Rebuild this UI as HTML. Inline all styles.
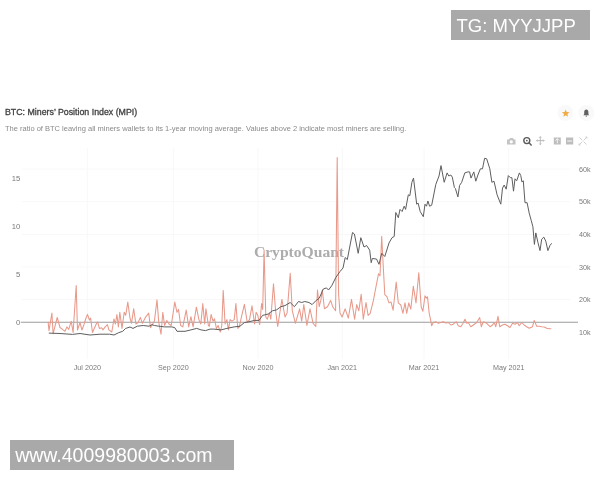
<!DOCTYPE html>
<html><head><meta charset="utf-8"><style>
html,body{margin:0;padding:0;background:#fff;width:600px;height:480px;overflow:hidden;}
body{position:relative;filter:blur(0.3px);font-family:"Liberation Sans",sans-serif;}
.wm{position:absolute;background:#a9a9a9;color:#fff;font-family:"Liberation Sans",sans-serif;white-space:nowrap;}
#tg{left:451px;top:10px;width:139px;height:30px;font-size:18.5px;line-height:30px;}
#tg span{position:absolute;left:5.5px;top:0.5px;}
#www{left:10px;top:440px;width:224px;height:30px;font-size:19.5px;line-height:30px;}
#www span{position:absolute;left:5.2px;top:0.3px;}
.title{position:absolute;left:5px;top:106.5px;font-size:8.8px;-webkit-text-stroke:0.3px #404040;color:#404040;white-space:nowrap;}
.sub{position:absolute;left:5px;top:124px;font-size:7.5px;color:#8a8a8a;white-space:nowrap;}
svg{position:absolute;left:0;top:0;}
svg text{font-family:"Liberation Sans",sans-serif;}
</style></head><body>
<svg width="600" height="480" viewBox="0 0 600 480">
<line x1="87.3" y1="148" x2="87.3" y2="359" stroke="#f8f8f8" stroke-width="1"/>
<line x1="173.3" y1="148" x2="173.3" y2="359" stroke="#f8f8f8" stroke-width="1"/>
<line x1="258.0" y1="148" x2="258.0" y2="359" stroke="#f8f8f8" stroke-width="1"/>
<line x1="342.3" y1="148" x2="342.3" y2="359" stroke="#f8f8f8" stroke-width="1"/>
<line x1="424.0" y1="148" x2="424.0" y2="359" stroke="#f8f8f8" stroke-width="1"/>
<line x1="508.7" y1="148" x2="508.7" y2="359" stroke="#f8f8f8" stroke-width="1"/>
<line x1="22" y1="169.0" x2="570" y2="169.0" stroke="#f8f8f8" stroke-width="1"/>
<line x1="22" y1="201.7" x2="570" y2="201.7" stroke="#f8f8f8" stroke-width="1"/>
<line x1="22" y1="234.4" x2="570" y2="234.4" stroke="#f8f8f8" stroke-width="1"/>
<line x1="22" y1="266.9" x2="570" y2="266.9" stroke="#f8f8f8" stroke-width="1"/>
<line x1="22" y1="299.4" x2="570" y2="299.4" stroke="#f8f8f8" stroke-width="1"/>
<text x="299" y="257.4" text-anchor="middle" style="font-family:Liberation Serif,serif;font-weight:bold;font-size:15.6px" fill="#acacac">CryptoQuant</text>
<line x1="20.8" y1="322.2" x2="578" y2="322.2" stroke="#9c9c9c" stroke-width="1.1"/>
<g>
<polyline points="48.1,321.9 49.0,330.6 51.9,313.1 53.1,333.8 57.2,317.5 60.0,327.5 62.5,329.4 65.0,331.3 66.9,326.9 68.8,329.4 71.2,321.2 73.1,332.5 76.2,285.6 77.5,330.0 80.0,322.5 81.9,330.0 83.8,325.0 86.0,318.0 87.5,314.4 89.4,320.0 90.6,318.1 92.5,332.5 96.9,322.5 97.6,321.8 99.4,328.4 101.6,327.7 103.0,329.9 105.2,326.9 107.4,324.7 108.9,329.9 111.8,332.0 114.0,318.9 115.4,324.0 116.9,314.5 118.4,326.9 119.8,312.3 122.0,328.4 124.2,312.3 125.7,315.3 127.8,302.1 130.0,318.2 131.5,323.3 133.7,308.7 135.9,324.0 138.1,322.6 140.3,317.4 142.4,323.3 145.4,317.4 148.7,313.1 150.5,327.7 152.7,324.0 154.4,321.1 157.0,299.9 158.8,322.6 161.0,334.2 162.8,312.3 164.6,325.5 166.8,320.4 169.0,324.0 171.2,325.5 174.8,302.1 177.0,312.3 178.5,309.4 180.7,325.5 182.8,326.9 186.2,310.1 188.7,326.9 190.9,316.7 193.1,326.9 196.4,307.2 198.9,319.6 200.8,324.0 202.8,303.6 204.7,324.0 205.9,308.7 208.4,325.5 209.4,326.2 211.1,314.5 213.0,321.1 214.5,318.9 216.4,328.4 218.1,325.5 220.3,332.0 221.8,325.5 223.2,290.4 225.1,324.0 226.9,319.6 228.4,329.9 230.1,319.6 232.0,321.1 234.2,319.6 235.9,303.6 237.8,328.4 239.3,326.9 241.5,316.7 244.4,304.3 247.3,322.6 249.5,319.6 252.0,305.8 254.6,324.0 256.1,312.3 257.8,315.3 259.7,324.7 261.6,303.6 262.7,309.4 264.1,250.0 265.8,317.0 267.3,319.2 269.4,312.9 270.8,319.2 273.5,283.8 275.6,310.8 277.7,326.5 281.9,299.4 285.0,317.0 287.1,312.9 290.2,273.3 292.3,310.8 295.4,323.3 299.6,308.8 301.7,321.2 303.8,304.6 306.9,325.4 310.0,308.8 313.1,323.3 315.8,326.5 317.5,290.0 319.2,306.7 320.8,300.4 322.3,290.0 324.4,308.8 327.5,306.7 330.6,300.4 332.7,306.7 335.6,310.8 337.2,157.5 338.6,294.2 340.0,312.9 342.1,317.0 345.2,308.8 348.3,318.1 351.5,299.4 354.6,319.2 356.7,304.6 358.8,310.8 361.2,294.2 363.3,319.2 366.0,302.5 368.1,315.4 370.2,313.3 373.3,300.8 376.5,284.2 378.5,273.8 380.0,275.8 381.7,236.2 383.3,267.5 384.8,294.6 386.9,296.7 389.0,302.9 391.0,301.9 393.1,310.2 396.2,282.1 398.3,302.9 400.8,305.0 402.9,313.3 405.0,302.9 406.7,313.3 408.8,302.9 410.8,309.2 413.3,286.2 416.0,302.9 418.8,272.7 421.2,307.0 422.9,311.2 425.0,295.8 426.7,298.3 427.5,296.7 429.2,313.3 430.3,318.3 431.7,325.8 433.3,322.5 435.8,321.7 438.3,323.3 440.8,322.5 443.3,321.7 445.8,323.0 448.3,322.5 450.8,325.0 453.3,324.2 456.3,321.7 458.3,325.8 460.8,326.7 463.0,323.3 465.0,319.2 466.7,323.3 468.3,322.5 470.8,326.7 473.3,325.0 476.7,322.5 479.7,317.5 481.3,326.7 483.3,321.7 486.7,323.3 490.0,326.7 492.5,325.0 494.2,322.5 495.8,326.7 498.0,316.3 499.7,326.7 502.5,325.0 505.0,324.2 507.5,325.8 510.0,327.5 512.5,323.3 515.0,324.2 517.5,322.5 519.2,325.8 521.7,322.5 524.2,325.0 526.7,326.7 529.2,328.3 532.5,326.7 534.2,320.5 536.7,326.3 539.2,326.3 541.7,326.7 544.2,327.0 546.7,328.3 549.2,328.7 551.3,328.7" fill="none" stroke="#e8998a" stroke-width="1.05" stroke-linejoin="round"/>
<polyline points="48.8,333.1 60.0,333.5 72.5,334.4 80.0,333.5 90.0,335.0 100.0,334.2 109.6,334.2 114.0,335.0 118.4,332.8 122.7,331.3 125.7,328.4 130.0,327.0 133.0,328.4 137.3,326.2 143.2,325.5 149.0,326.2 152.0,324.7 154.4,325.5 158.8,326.2 164.6,326.9 171.9,326.9 174.8,327.7 177.0,331.3 185.0,331.3 190.9,329.9 196.7,328.4 201.1,329.9 205.5,330.6 210.0,329.1 213.8,329.1 221.1,329.9 226.9,328.4 234.2,326.9 240.0,326.2 244.4,322.6 248.8,321.8 254.6,320.4 259.0,320.4 262.7,315.3 264.2,315.0 268.3,314.0 272.5,310.8 276.7,309.8 280.8,306.7 285.0,305.6 290.2,302.5 294.4,306.7 298.5,301.5 301.7,302.5 304.8,301.5 309.0,302.5 312.1,304.6 316.2,300.4 319.2,298.3 323.3,289.0 326.5,287.9 328.5,290.0 331.7,285.8 335.8,277.5 340.0,271.5 343.0,268.0 345.2,257.5 347.3,259.6 352.5,232.5 354.4,234.0 358.2,253.3 360.8,237.7 364.0,247.0 366.6,245.5 369.7,250.2 371.2,262.7 372.3,258.5 376.5,259.0 379.0,264.3 381.7,253.3 384.8,256.5 389.0,243.0 392.0,237.7 394.2,236.5 395.8,212.5 398.3,217.7 400.0,209.4 402.1,211.5 404.2,206.2 405.6,209.4 408.3,194.8 409.8,195.8 411.9,182.3 413.5,178.1 416.7,204.2 418.1,203.1 420.2,211.5 423.3,216.7 425.0,204.2 426.5,206.2 427.9,201.0 429.6,206.2 431.7,205.2 435.8,184.4 439.0,176.0 441.0,165.6 444.2,182.3 447.1,172.9 448.8,176.0 450.8,175.0 452.3,177.1 454.4,187.5 455.4,188.5 457.9,196.9 459.6,185.4 461.7,182.3 464.8,172.9 467.9,171.9 469.6,171.9 471.0,178.1 473.8,171.9 475.8,181.2 477.9,175.0 480.4,168.8 482.5,168.8 484.6,158.3 486.7,158.8 489.8,168.8 491.9,182.3 494.0,181.2 497.1,194.8 500.8,204.2 502.5,188.1 504.2,185.0 506.2,189.2 508.3,175.6 510.4,177.7 511.9,177.7 513.5,191.2 515.0,178.8 516.7,180.8 519.4,172.9 520.8,175.6 521.9,181.9 523.3,180.8 525.0,202.7 527.1,202.7 529.2,213.1 531.2,220.4 532.9,226.7 534.4,244.4 535.8,232.9 537.9,242.3 540.0,250.6 541.7,239.2 543.8,237.1 545.8,241.2 547.9,250.6 550.0,245.4 551.7,243.3" fill="none" stroke="#5e5e5e" stroke-width="1" stroke-linejoin="round"/>
</g>
<text x="87.3" y="370" text-anchor="middle" font-size="7.2" fill="#7a7a7a">Jul 2020</text>
<text x="173.3" y="370" text-anchor="middle" font-size="7.2" fill="#7a7a7a">Sep 2020</text>
<text x="258.0" y="370" text-anchor="middle" font-size="7.2" fill="#7a7a7a">Nov 2020</text>
<text x="342.3" y="370" text-anchor="middle" font-size="7.2" fill="#7a7a7a">Jan 2021</text>
<text x="424.0" y="370" text-anchor="middle" font-size="7.2" fill="#7a7a7a">Mar 2021</text>
<text x="508.7" y="370" text-anchor="middle" font-size="7.2" fill="#7a7a7a">May 2021</text>
<text x="20.3" y="180.9" text-anchor="end" font-size="7.7" fill="#7a7a7a">15</text>
<text x="20.3" y="228.9" text-anchor="end" font-size="7.7" fill="#7a7a7a">10</text>
<text x="20.3" y="276.9" text-anchor="end" font-size="7.7" fill="#7a7a7a">5</text>
<text x="20.3" y="324.9" text-anchor="end" font-size="7.7" fill="#7a7a7a">0</text>
<text x="579.1" y="171.6" font-size="7.2" fill="#7a7a7a">60k</text>
<text x="579.1" y="204.3" font-size="7.2" fill="#7a7a7a">50k</text>
<text x="579.1" y="237.0" font-size="7.2" fill="#7a7a7a">40k</text>
<text x="579.1" y="269.5" font-size="7.2" fill="#7a7a7a">30k</text>
<text x="579.1" y="302.0" font-size="7.2" fill="#7a7a7a">20k</text>
<text x="579.1" y="334.6" font-size="7.2" fill="#7a7a7a">10k</text>

<g fill="#c4c4c4">
 <path d="M507 139.5h2l1-1.5h3l1 1.5h1.5v5h-8.5z"/>
 <circle cx="511.3" cy="141.8" r="1.6" fill="#fff"/>
</g>
<g fill="none" stroke="#5a5a5a" stroke-width="1.4">
 <circle cx="526.8" cy="140.6" r="3"/>
 <path d="M529 142.8l2.6 2.6"/>
</g>
<path d="M526 140.6h1.6M526.8 139.8v1.6" stroke="#5a5a5a" stroke-width="0.9"/>
<g stroke="#b4b4b4" stroke-width="0.9" fill="none">
 <path d="M540.3 136.6v8M536.5 140.6h7.6M539.3 137.6l1-1 1 1M539.3 143.6l1 1 1-1M537.5 139.6l-1 1 1 1M543.1 139.6l1 1-1 1"/>
</g>
<rect x="553.8" y="137.5" width="7" height="7" fill="#bdbdbd"/>
<path d="M557.3 138.7v4.6M555.5 140.5l1.8-1.8 1.8 1.8" stroke="#fff" stroke-width="0.8" fill="none"/>
<rect x="566" y="137.5" width="7.2" height="7" fill="#bdbdbd"/>
<path d="M567.3 141h4.6" stroke="#fff" stroke-width="0.9"/>
<g stroke="#c8c8c8" stroke-width="0.9" fill="none">
 <path d="M579.5 137.5l2.8 2.8M586.5 137.5l-2.8 2.8M579.5 144.5l2.8-2.8M586.5 144.5l-2.8-2.8M585.5 137h1.5v1.5M580.5 145h-1.5v-1.5"/>
</g>

<circle cx="565.5" cy="113" r="8" fill="#f9f9f9"/>
<circle cx="586.3" cy="113" r="8" fill="#f9f9f9"/>
<polygon points="565.70,109.40 566.76,111.94 569.50,112.16 567.41,113.96 568.05,116.64 565.70,115.20 563.35,116.64 563.99,113.96 561.90,112.16 564.64,111.94" fill="#f1aa45"/>
<path d="M586.3 109.4c-1.3 0-2.1 1-2.1 2.6v2.2l-0.9 1.1h6l-0.9-1.1v-2.2c0-1.6-0.8-2.6-2.1-2.6z" fill="#606060"/><circle cx="586.3" cy="116.1" r="0.7" fill="#606060"/>
</svg>
<div class="title">BTC: Miners’ Position Index (MPI)</div>
<div class="sub">The ratio of BTC leaving all miners wallets to its 1-year moving average. Values above 2 indicate most miners are selling.</div>
<div class="wm" id="tg"><span>TG: MYYJJPP</span></div>
<div class="wm" id="www"><span>www.4009980003.com</span></div>
</body></html>
